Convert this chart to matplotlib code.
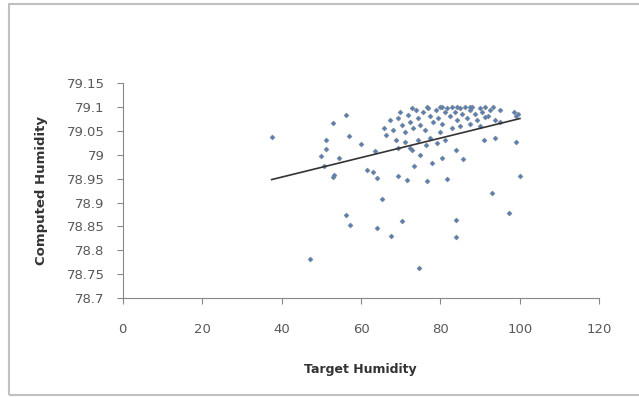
import matplotlib
matplotlib.use('Agg')
import matplotlib.pyplot as plt
import numpy as np
from matplotlib.patches import Rectangle

# dense cluster near the top right
dense_x = [65.8, 66.3, 67.3, 68.1, 69.3, 70.4, 71.1, 71.9, 72.4, 73.1, 73.9, 74.4, 74.9, 75.6,
           76.1, 76.9, 77.4, 78.2, 78.9, 79.4, 79.9, 80.4, 81.2, 81.7, 82.4, 82.9, 83.7, 84.2,
           85.0, 85.5, 86.2, 86.7, 87.5, 88.0, 88.7, 89.2, 90.0, 90.5, 91.2, 92.0, 92.5, 93.3,
           93.8, 82.9, 79.9, 77.4, 74.4, 71.1, 69.3, 72.9, 76.4, 81.2, 87.5, 85.0, 90.0, 95.0,
           95.0, 98.5, 99.5, 99.0, 68.8, 69.8, 72.9, 76.6, 80.4, 84.2, 87.4, 91.2]
dense_y = [79.056, 79.041, 79.072, 79.051, 79.077, 79.062, 79.047, 79.083, 79.068, 79.056,
           79.093, 79.077, 79.062, 79.089, 79.051, 79.097, 79.081, 79.068, 79.093, 79.077,
           79.100, 79.064, 79.089, 79.097, 79.081, 79.100, 79.089, 79.072, 79.097, 79.085,
           79.100, 79.077, 79.093, 79.100, 79.085, 79.072, 79.097, 79.089, 79.100, 79.081,
           79.093, 79.100, 79.072, 79.056, 79.047, 79.035, 79.031, 79.026, 79.014, 79.010,
           79.020, 79.031, 79.064, 79.060, 79.060, 79.093, 79.068, 79.089, 79.085, 79.081,
           79.031, 79.089, 79.098, 79.100, 79.100, 79.100, 79.100, 79.079]

# scattered points
spread_x = [37.5, 56.1, 53.0, 51.1, 56.9, 51.1, 50.0, 54.4, 50.6, 53.0, 59.9, 63.6, 61.6, 64.1,
            69.3, 71.6, 73.3, 76.7, 77.9, 80.4, 81.7, 83.8, 85.7, 90.9, 93.8, 99.1, 100.0, 56.1,
            57.2, 65.4, 64.1, 67.5, 70.4, 83.8, 83.8, 93.0, 97.2, 47.2, 74.6, 79.2, 74.9, 72.4,
            63.0, 53.2]
spread_y = [79.036, 79.083, 79.067, 79.031, 79.040, 79.012, 78.998, 78.994, 78.977, 78.954,
            79.022, 79.008, 78.968, 78.951, 78.956, 78.947, 78.977, 78.946, 78.982, 78.994,
            78.949, 79.010, 78.991, 79.031, 79.035, 79.026, 78.956, 78.873, 78.852, 78.908,
            78.847, 78.830, 78.862, 78.864, 78.828, 78.919, 78.878, 78.781, 78.763, 79.024,
            78.999, 79.014, 78.964, 78.957]

target = np.array(dense_x + spread_x)
computed = np.array(dense_y + spread_y)

x_ticks = [0, 20, 40, 60, 80, 100, 120]
y_ticks = [78.7, 78.75, 78.8, 78.85, 78.9, 78.95, 79, 79.05, 79.1, 79.15]
y_labels = ['78.7', '78.75', '78.8', '78.85', '78.9', '78.95', '79', '79.05', '79.1', '79.15']

fig = plt.figure(figsize=(6.39, 3.97), dpi=100)
ax = fig.add_axes([0.192, 0.249, 0.746, 0.542])

fig.patches.append(Rectangle((0.014, 0.005), 1.0, 0.985, transform=fig.transFigure,
                             fill=False, edgecolor='#c0c0c0', linewidth=1.5))

ax.scatter(target, computed, marker='D', s=6, facecolor='#4f7fc0', edgecolor='#80868f',
           linewidths=0.5, zorder=3)

# linear trendline (least squares)
k, b = np.polyfit(target, computed, 1)
xs = np.array([target.min(), target.max()])
ax.plot(xs, k * xs + b, color='#333333', linewidth=1.2, zorder=4)

ax.set_xlim(0, 120)
ax.set_ylim(78.7, 79.15)
ax.set_xticks(x_ticks)
ax.set_yticks(y_ticks)
ax.set_yticklabels(y_labels)
ax.tick_params(axis='both', direction='out', length=4, color='#888888',
               labelsize=9.5, labelcolor='#595959')
ax.tick_params(axis='y', pad=9)
ax.tick_params(axis='x', pad=14)
for s in ['top', 'right']:
    ax.spines[s].set_visible(False)
for s in ['left', 'bottom']:
    ax.spines[s].set_color('#888888')

ax.set_xlabel('Target Humidity', fontsize=9, fontweight='bold', color='#333333')
ax.set_ylabel('Computed Humidity', fontsize=9.5, fontweight='bold', color='#333333')
ax.xaxis.set_label_coords(0.498, -0.30)
ax.yaxis.set_label_coords(-0.156, 0.5)

fig.savefig('out.png', dpi=100)
